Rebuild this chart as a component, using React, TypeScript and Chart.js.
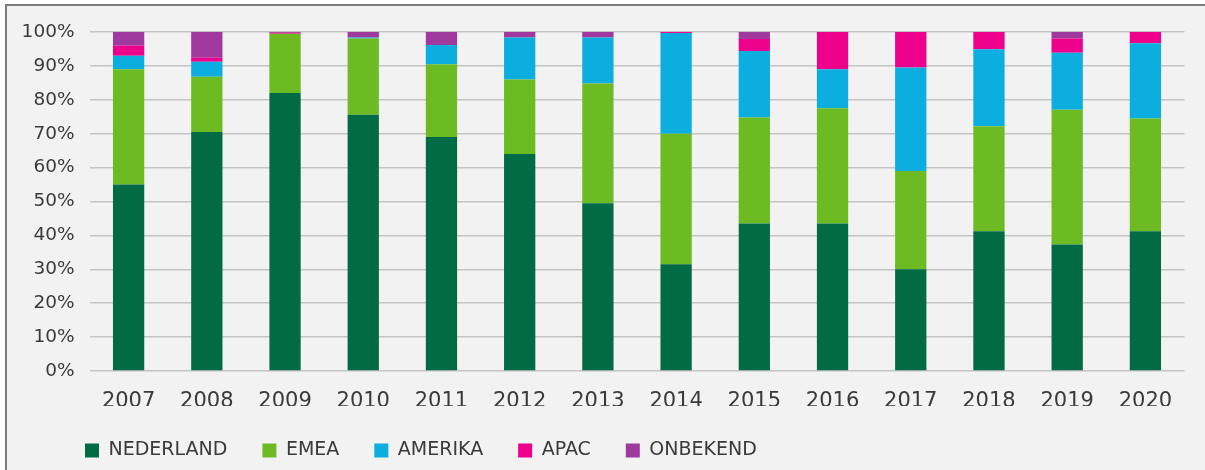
import React, { useEffect, useRef } from 'react';
import { Chart, registerables } from 'chart.js';

Chart.register(...registerables);

const years = ['2007', '2008', '2009', '2010', '2011', '2012', '2013', '2014', '2015', '2016', '2017', '2018', '2019', '2020'];
const nederland = [55, 70.5, 82, 75.6, 69, 64, 49.5, 31.5, 43.5, 43.5, 30, 41.2, 37.3, 41.2];
const emea = [34, 16.3, 17.5, 22.5, 21.5, 22, 35.3, 38.5, 31.3, 34, 29, 31, 39.8, 33.3];
const amerika = [4, 4.4, 0, 0.3, 5.7, 12.4, 13.6, 29.7, 19.6, 11.5, 30.5, 22.7, 16.8, 22.2];
const apac = [3, 1.2, 0.3, 0, 0, 0, 0, 0.3, 3.5, 11, 10.5, 5.1, 4.2, 3.3];
const onbekend = [4, 7.6, 0.2, 1.6, 3.8, 1.6, 1.6, 0, 2.1, 0, 0, 0, 1.9, 0];
const seriesNames = ['NEDERLAND', 'EMEA', 'AMERIKA', 'APAC', 'ONBEKEND'];
const seriesColors = ['#006B45', '#6CBB23', '#0BAEDF', '#EC008C', '#A0399E'];

const FONT = '"DejaVu Sans", sans-serif';
const TEXT = '#3a3a3a';

const legendShift = {
  id: 'legendShift',
  beforeDraw(chart: any) {
    if (chart.legend) chart.legend.left = 50;
  },
};

export default function App() {
  const ref = useRef<HTMLCanvasElement | null>(null);

  useEffect(() => {
    if (!ref.current) return;
    const values = [nederland, emea, amerika, apac, onbekend];
    const chart = new Chart(ref.current, {
      type: 'bar',
      data: {
        labels: years,
        datasets: seriesNames.map((name, i) => ({
          label: name,
          data: values[i],
          backgroundColor: seriesColors[i],
          borderWidth: 0,
          barPercentage: 0.4,
          categoryPercentage: 1,
        })),
      },
      plugins: [legendShift],
      options: {
        animation: false,
        responsive: false,
        maintainAspectRatio: false,
        layout: { padding: { left: 0, right: 20.5, top: 32, bottom: 0 } },
        plugins: {
          tooltip: { enabled: false },
          legend: {
            position: 'bottom',
            align: 'start',
            labels: {
              boxWidth: 14,
              boxHeight: 14,
              padding: 35,
              color: TEXT,
              font: { family: FONT, size: 19 },
            },
          },
        },
        scales: {
          x: {
            stacked: true,
            grid: { display: false, drawTicks: false },
            border: { display: false },
            ticks: { color: TEXT, font: { family: FONT, size: 21 }, padding: 18 },
            afterFit: (s: any) => { s.height = 35; },
          },
          y: {
            stacked: true,
            min: 0,
            max: 100,
            ticks: {
              stepSize: 10,
              color: TEXT,
              font: { family: FONT, size: 18.5 },
              padding: 15,
              callback: (v: any) => v + '%',
            },
            grid: { color: '#c4c4c4', lineWidth: 1.5, drawTicks: false },
            border: { display: false },
            afterFit: (s: any) => { s.width = 89.5; },
          },
        },
      },
    });
    return () => chart.destroy();
  }, []);

  return (
    <div style={{ position: 'fixed', left: 0, top: 0, width: 1205, height: 470, background: '#ffffff', overflow: 'hidden' }}>
      <div style={{ position: 'absolute', left: 5, top: 4, width: 1300, height: 600, border: '2px solid #7c7c7c', background: '#f2f2f2' }} />
      <canvas ref={ref} width={1205} height={470} style={{ position: 'absolute', left: 0, top: 0, width: 1205, height: 470 }} />
    </div>
  );
}
